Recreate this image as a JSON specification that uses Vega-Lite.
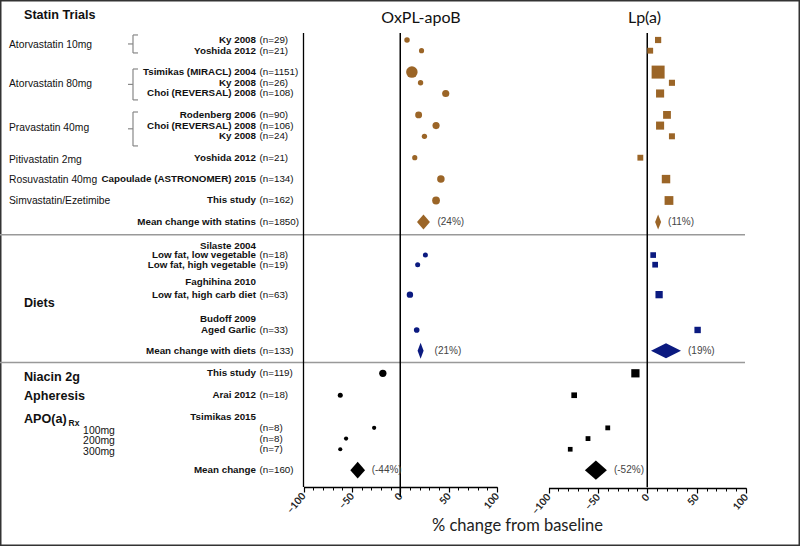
{
"$schema":"https://vega.github.io/schema/vega-lite/v6.json",
"width":800,"height":546,"padding":0,"autosize":{"type":"none"},
"config":{"view":{"stroke":"#333","strokeWidth":3},"axis":{"grid":false},"font":"Liberation Sans"},
"datasets":{
"studies":[
{"name":"Ky 2008","n":"(n=29)","N":29,"row":1,"group":"statins","oxpl":7,"lpa":11},
{"name":"Yoshida 2012","n":"(n=21)","N":21,"row":2,"group":"statins","oxpl":22,"lpa":3},
{"name":"Tsimikas (MIRACL) 2004","n":"(n=1151)","N":1151,"row":4,"group":"statins","oxpl":12,"lpa":11},
{"name":"Ky 2008","n":"(n=26)","N":26,"row":5,"group":"statins","oxpl":21,"lpa":25},
{"name":"Choi (REVERSAL) 2008","n":"(n=108)","N":108,"row":6,"group":"statins","oxpl":47,"lpa":13},
{"name":"Rodenberg 2006","n":"(n=90)","N":90,"row":8,"group":"statins","oxpl":19,"lpa":20},
{"name":"Choi (REVERSAL) 2008","n":"(n=106)","N":106,"row":9,"group":"statins","oxpl":37,"lpa":13},
{"name":"Ky 2008","n":"(n=24)","N":24,"row":10,"group":"statins","oxpl":25,"lpa":25},
{"name":"Yoshida  2012","n":"(n=21)","N":21,"row":12,"group":"statins","oxpl":15,"lpa":-7},
{"name":"Capoulade (ASTRONOMER) 2015","n":"(n=134)","N":134,"row":14,"group":"statins","oxpl":42,"lpa":19},
{"name":"This study","n":"(n=162)","N":162,"row":16,"group":"statins","oxpl":37,"lpa":22},
{"name":"Low fat, low vegetable","n":"(n=18)","N":18,"row":21.1,"group":"diets","oxpl":26,"lpa":6},
{"name":"Low fat, high vegetable","n":"(n=19)","N":19,"row":22.0,"group":"diets","oxpl":18,"lpa":8},
{"name":"Low fat, high carb diet","n":"(n=63)","N":63,"row":24.8,"group":"diets","oxpl":10,"lpa":12},
{"name":"Aged Garlic","n":"(n=33)","N":33,"row":28.1,"group":"diets","oxpl":17,"lpa":51},
{"name":"This study","n":"(n=119)","N":119,"row":32.15,"group":"other","oxpl":-18,"lpa":-12},
{"name":"Arai 2012","n":"(n=18)","N":18,"row":34.2,"group":"other","oxpl":-62,"lpa":-74},
{"name":"","n":"(n=8)","N":8,"row":37.25,"group":"other","oxpl":-27,"lpa":-40},
{"name":"","n":"(n=8)","N":8,"row":38.25,"group":"other","oxpl":-56,"lpa":-60},
{"name":"","n":"(n=7)","N":7,"row":39.25,"group":"other","oxpl":-62,"lpa":-78}
],
"means":[
{"name":"Mean change with statins","n":"(n=1850)","row":18,"group":"statins","oxpl":24,"oxplPct":"(24%)","lpa":11,"lpaHi":14,"lpaPct":"(11%)"},
{"name":"Mean change with diets","n":"(n=133)","row":30.05,"group":"diets","oxpl":21,"oxplPct":"(21%)","lpa":19,"lpaHi":34.2,"lpaPct":"(19%)"},
{"name":"Mean change","n":"(n=160)","row":41.2,"group":"other","oxpl":-44,"oxplPct":"(-44%)","lpa":-52,"lpaHi":-40.8,"lpaPct":"(-52%)"}
],
"headers":[
{"name":"Silaste 2004","row":20.22},{"name":"Faghihina 2010","row":23.59},{"name":"Budoff 2009","row":27.1},{"name":"Tsimikas 2015","row":36.2}
],
"side":[
{"text":"Statin Trials","row":-1.34,"kind":"heading"},
{"text":"Atorvastatin 10mg","row":1.45,"kind":"group"},
{"text":"Atorvastatin 80mg","row":5.14,"kind":"group"},
{"text":"Pravastatin 40mg","row":9.25,"kind":"group"},
{"text":"Pitivastatin 2mg","row":12.2,"kind":"group"},
{"text":"Rosuvastatin 40mg","row":14.1,"kind":"group"},
{"text":"Simvastatin/Ezetimibe","row":16.05,"kind":"group"},
{"text":"Diets","row":25.55,"kind":"heading"},
{"text":"Niacin 2g","row":32.47,"kind":"heading"},
{"text":"Apheresis","row":34.24,"kind":"heading"},
{"text":"APO(a)","row":36.45,"kind":"heading"},
{"text":"Rx","row":36.8,"kind":"sub"},
{"text":"100mg","row":37.5,"kind":"dose"},
{"text":"200mg","row":38.5,"kind":"dose"},
{"text":"300mg","row":39.5,"kind":"dose"}
],
"brackets":[{"top":0.53,"bottom":2.21,"mid":1.37},{"top":3.71,"bottom":6.6,"mid":5.15},{"top":7.73,"bottom":10.9,"mid":9.3}],
"seps":[{"row":19.2},{"row":31.14}]
},
"layer":[
{"layer":[
 {"data":{"name":"seps"},"mark":{"type":"rule","color":"#999","strokeWidth":1.5},
  "encoding":{"x":{"value":0},"x2":{"value":745},"y":{"field":"row","type":"quantitative","scale":{"domain":[-2.738,48.29],"reverse":true,"nice":false,"zero":false},"axis":null}}},
 {"data":{"name":"brackets"},"mark":{"type":"rule","color":"#888","strokeWidth":1.2},
  "encoding":{"x":{"value":133},"y":{"field":"top","type":"quantitative","scale":{"domain":[-2.738,48.29],"reverse":true,"nice":false,"zero":false},"axis":null},"y2":{"field":"bottom"}}},
 {"data":{"name":"brackets"},"mark":{"type":"rule","color":"#888","strokeWidth":1.2},
  "encoding":{"x":{"value":133},"x2":{"value":138},"y":{"field":"top","type":"quantitative","scale":{"domain":[-2.738,48.29],"reverse":true,"nice":false,"zero":false},"axis":null}}},
 {"data":{"name":"brackets"},"mark":{"type":"rule","color":"#888","strokeWidth":1.2},
  "encoding":{"x":{"value":133},"x2":{"value":138},"y":{"field":"bottom","type":"quantitative","scale":{"domain":[-2.738,48.29],"reverse":true,"nice":false,"zero":false},"axis":null}}},
 {"data":{"name":"brackets"},"mark":{"type":"rule","color":"#888","strokeWidth":1.2},
  "encoding":{"x":{"value":128},"x2":{"value":133},"y":{"field":"mid","type":"quantitative","scale":{"domain":[-2.738,48.29],"reverse":true,"nice":false,"zero":false},"axis":null}}},
 {"data":{"name":"studies"},"mark":{"type":"text","align":"right","baseline":"middle","fontSize":9.8,"fontWeight":"bold","color":"#111"},
  "encoding":{"x":{"value":256},"y":{"field":"row","type":"quantitative","scale":{"domain":[-2.738,48.29],"reverse":true,"nice":false,"zero":false},"axis":null},"text":{"field":"name"}}},
 {"data":{"name":"means"},"mark":{"type":"text","align":"right","baseline":"middle","fontSize":9.8,"fontWeight":"bold","color":"#111"},
  "encoding":{"x":{"value":256},"y":{"field":"row","type":"quantitative","scale":{"domain":[-2.738,48.29],"reverse":true,"nice":false,"zero":false},"axis":null},"text":{"field":"name"}}},
 {"data":{"name":"headers"},"mark":{"type":"text","align":"right","baseline":"middle","fontSize":9.8,"fontWeight":"bold","color":"#111"},
  "encoding":{"x":{"value":256},"y":{"field":"row","type":"quantitative","scale":{"domain":[-2.738,48.29],"reverse":true,"nice":false,"zero":false},"axis":null},"text":{"field":"name"}}},
 {"data":{"name":"studies"},"mark":{"type":"text","align":"left","baseline":"middle","fontSize":9.8,"color":"#111"},
  "encoding":{"x":{"value":259.5},"y":{"field":"row","type":"quantitative","scale":{"domain":[-2.738,48.29],"reverse":true,"nice":false,"zero":false},"axis":null},"text":{"field":"n"}}},
 {"data":{"name":"means"},"mark":{"type":"text","align":"left","baseline":"middle","fontSize":9.8,"color":"#111"},
  "encoding":{"x":{"value":259.5},"y":{"field":"row","type":"quantitative","scale":{"domain":[-2.738,48.29],"reverse":true,"nice":false,"zero":false},"axis":null},"text":{"field":"n"}}},
 {"data":{"name":"side"},"transform":[{"filter":"datum.kind == 'group'"}],"mark":{"type":"text","align":"left","baseline":"middle","fontSize":10.3,"color":"#111"},
  "encoding":{"x":{"value":9},"y":{"field":"row","type":"quantitative","scale":{"domain":[-2.738,48.29],"reverse":true,"nice":false,"zero":false},"axis":null},"text":{"field":"text"}}},
 {"data":{"name":"side"},"transform":[{"filter":"datum.kind == 'heading'"}],"mark":{"type":"text","align":"left","baseline":"middle","fontSize":12.6,"fontWeight":"bold","color":"#111"},
  "encoding":{"x":{"value":24},"y":{"field":"row","type":"quantitative","scale":{"domain":[-2.738,48.29],"reverse":true,"nice":false,"zero":false},"axis":null},"text":{"field":"text"}}},
 {"data":{"name":"side"},"transform":[{"filter":"datum.kind == 'sub'"}],"mark":{"type":"text","align":"left","baseline":"middle","fontSize":8.5,"fontWeight":"bold","color":"#111"},
  "encoding":{"x":{"value":68.5},"y":{"field":"row","type":"quantitative","scale":{"domain":[-2.738,48.29],"reverse":true,"nice":false,"zero":false},"axis":null},"text":{"field":"text"}}},
 {"data":{"name":"side"},"transform":[{"filter":"datum.kind == 'dose'"}],"mark":{"type":"text","align":"center","baseline":"middle","fontSize":10.4,"color":"#111"},
  "encoding":{"x":{"value":99},"y":{"field":"row","type":"quantitative","scale":{"domain":[-2.738,48.29],"reverse":true,"nice":false,"zero":false},"axis":null},"text":{"field":"text"}}}
]},
{"layer":[
 {"data":{"values":[{}]},"mark":{"type":"rule","color":"black","strokeWidth":1.5},
  "encoding":{"x":{"datum":0,"type":"quantitative","scale":{"domain":[-100,100],"range":[303.5,497],"nice":false,"zero":false},"axis":null},
   "y":{"datum":0.35,"type":"quantitative","scale":{"domain":[-2.738,48.29],"reverse":true,"nice":false,"zero":false},"axis":null},"y2":{"datum":43.7}}},
 {"data":{"values":[{}]},"mark":{"type":"rule","color":"black","strokeWidth":1.3},
  "encoding":{"x":{"datum":-100,"type":"quantitative","scale":{"domain":[-100,100],"range":[303.5,497],"nice":false,"zero":false},"axis":null},
   "y":{"datum":0.35,"type":"quantitative","scale":{"domain":[-2.738,48.29],"reverse":true,"nice":false,"zero":false},"axis":null},"y2":{"datum":42.78}}},
 {"data":{"name":"studies"},"mark":{"type":"circle","opacity":1},
  "encoding":{"x":{"field":"oxpl","type":"quantitative","scale":{"domain":[-100,100],"range":[303.5,497],"nice":false,"zero":false},
    "axis":{"orient":"bottom","offset":-59,"values":[-100,-50,0,50,100],"domain":false,"ticks":true,"tickSize":5,"tickColor":"black","tickWidth":1.2,"labels":true,"labelAngle":-50,"labelAlign":"right","labelBaseline":"middle","labelFont":"Lato","labelFontSize":10,"labelFontWeight":"bold","labelColor":"#222","labelPadding":2,"labelFlush":false,"labelOverlap":false,"labelBound":false,"grid":false,"title":"% change from baseline","titleX":517,"titleY":38,"titleAlign":"center","titleBaseline":"middle","titleFont":"Lato","titleFontSize":16.5,"titleFontWeight":"normal","titleColor":"#222","titleAngle":0}},
   "y":{"field":"row","type":"quantitative","scale":{"domain":[-2.738,48.29],"reverse":true,"nice":false,"zero":false},"axis":null},
   "size":{"field":"N","type":"quantitative","scale":{"type":"pow","exponent":0.4,"domain":[0,1151],"range":[0,132]},"legend":null},
   "color":{"field":"group","type":"nominal","scale":{"domain":["statins","diets","other"],"range":["#9B6527","#0B1A80","#000000"]},"legend":null}}},
 {"data":{"name":"means"},"mark":{"type":"point","filled":true,"opacity":1,"size":256,"strokeWidth":0},
  "encoding":{"x":{"field":"oxpl","type":"quantitative","scale":{"domain":[-100,100],"range":[303.5,497],"nice":false,"zero":false},
    "axis":{"orient":"bottom","offset":-59,"values":[-100,-90,-80,-70,-60,-50,-40,-30,-20,-10,0,10,20,30,40,50,60,70,80,90,100],"labels":false,"ticks":true,"tickSize":3,"tickColor":"black","tickWidth":1,"domain":true,"domainColor":"black","domainWidth":1.5,"grid":false,"title":null}},
   "y":{"field":"row","type":"quantitative","scale":{"domain":[-2.738,48.29],"reverse":true,"nice":false,"zero":false},"axis":null},
   "shape":{"field":"group","type":"nominal","scale":{"domain":["statins","diets","other"],"range":["M-0.81,0L0,-0.94L0.81,0L0,0.94Z","M-0.375,0L0,-1L0.375,0L0,1Z","M-0.92,0L0,-1.06L0.92,0L0,1.06Z"]},"legend":null},
   "color":{"field":"group","type":"nominal","scale":{"domain":["statins","diets","other"],"range":["#9B6527","#0B1A80","#000000"]},"legend":null}}},
 {"data":{"name":"means"},"mark":{"type":"text","align":"left","baseline":"middle","dx":14,"fontSize":10,"color":"#444"},
  "encoding":{"x":{"field":"oxpl","type":"quantitative","scale":{"domain":[-100,100],"range":[303.5,497],"nice":false,"zero":false},"axis":null},
   "y":{"field":"row","type":"quantitative","scale":{"domain":[-2.738,48.29],"reverse":true,"nice":false,"zero":false},"axis":null},
   "text":{"field":"oxplPct"}}},
 {"data":{"values":[{}]},"mark":{"type":"text","text":"OxPL-apoB","align":"center","baseline":"middle","font":"Lato","fontSize":16,"color":"#111"},
  "encoding":{"x":{"datum":21.4,"type":"quantitative","scale":{"domain":[-100,100],"range":[303.5,497],"nice":false,"zero":false},"axis":null},
   "y":{"datum":-1.06,"type":"quantitative","scale":{"domain":[-2.738,48.29],"reverse":true,"nice":false,"zero":false},"axis":null}}}
],"resolve":{"axis":{"x":"independent"}}},
{"layer":[
 {"data":{"values":[{}]},"mark":{"type":"rule","color":"black","strokeWidth":1.5},
  "encoding":{"x":{"datum":0,"type":"quantitative","scale":{"domain":[-100,100],"range":[548.5,746],"nice":false,"zero":false},"axis":null},
   "y":{"datum":0.35,"type":"quantitative","scale":{"domain":[-2.738,48.29],"reverse":true,"nice":false,"zero":false},"axis":null},"y2":{"datum":42.8}}},
 {"data":{"name":"studies"},"mark":{"type":"square","opacity":1},
  "encoding":{"x":{"field":"lpa","type":"quantitative","scale":{"domain":[-100,100],"range":[548.5,746],"nice":false,"zero":false},
    "axis":{"orient":"bottom","offset":-58,"values":[-100,-50,0,50,100],"domain":false,"ticks":true,"tickSize":5,"tickColor":"black","tickWidth":1.2,"labels":true,"labelAngle":-50,"labelAlign":"right","labelBaseline":"middle","labelFont":"Lato","labelFontSize":10,"labelFontWeight":"bold","labelColor":"#222","labelPadding":2,"labelFlush":false,"labelOverlap":false,"labelBound":false,"grid":false,"title":null}},
   "y":{"field":"row","type":"quantitative","scale":{"domain":[-2.738,48.29],"reverse":true,"nice":false,"zero":false},"axis":null},
   "size":{"field":"N","type":"quantitative","scale":{"type":"pow","exponent":0.4,"domain":[0,1151],"range":[0,169]},"legend":null},
   "color":{"field":"group","type":"nominal","scale":{"domain":["statins","diets","other"],"range":["#9B6527","#0B1A80","#000000"]},"legend":null}}},
 {"data":{"name":"means"},"mark":{"type":"point","filled":true,"opacity":1,"size":256,"strokeWidth":0},
  "encoding":{"x":{"field":"lpa","type":"quantitative","scale":{"domain":[-100,100],"range":[548.5,746],"nice":false,"zero":false},
    "axis":{"orient":"bottom","offset":-58,"values":[-100,-90,-80,-70,-60,-50,-40,-30,-20,-10,0,10,20,30,40,50,60,70,80,90,100],"labels":false,"ticks":true,"tickSize":3,"tickColor":"black","tickWidth":1,"domain":true,"domainColor":"black","domainWidth":1.5,"grid":false,"title":null}},
   "y":{"field":"row","type":"quantitative","scale":{"domain":[-2.738,48.29],"reverse":true,"nice":false,"zero":false},"axis":null},
   "shape":{"field":"group","type":"nominal","scale":{"domain":["statins","diets","other"],"range":["M-0.375,0L0,-0.94L0.375,0L0,0.94Z","M-1.875,0L0,-0.94L1.875,0L0,0.94Z","M-1.375,0L0,-1.19L1.375,0L0,1.19Z"]},"legend":null},
   "color":{"field":"group","type":"nominal","scale":{"domain":["statins","diets","other"],"range":["#9B6527","#0B1A80","#000000"]},"legend":null}}},
 {"data":{"name":"means"},"mark":{"type":"text","align":"left","baseline":"middle","dx":7,"fontSize":10,"color":"#444"},
  "encoding":{"x":{"field":"lpaHi","type":"quantitative","scale":{"domain":[-100,100],"range":[548.5,746],"nice":false,"zero":false},"axis":null},
   "y":{"field":"row","type":"quantitative","scale":{"domain":[-2.738,48.29],"reverse":true,"nice":false,"zero":false},"axis":null},
   "text":{"field":"lpaPct"}}},
 {"data":{"values":[{}]},"mark":{"type":"text","text":"Lp(a)","align":"center","baseline":"middle","font":"Lato","fontSize":16,"color":"#111"},
  "encoding":{"x":{"datum":-2.8,"type":"quantitative","scale":{"domain":[-100,100],"range":[548.5,746],"nice":false,"zero":false},"axis":null},
   "y":{"datum":-1.06,"type":"quantitative","scale":{"domain":[-2.738,48.29],"reverse":true,"nice":false,"zero":false},"axis":null}}}
],"resolve":{"axis":{"x":"independent"}}}
],
"resolve":{"scale":{"x":"independent","size":"independent","shape":"independent"},"axis":{"x":"independent"}}
}
